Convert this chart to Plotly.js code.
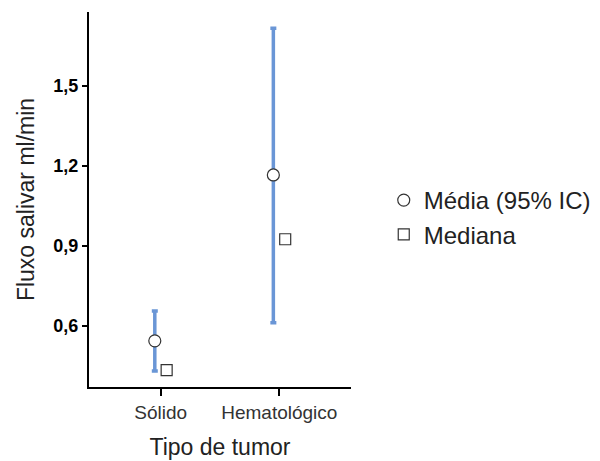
<!DOCTYPE html>
<html>
<head>
<meta charset="utf-8">
<script src="https://cdn.plot.ly/plotly-3.0.1.min.js"></script>
<style>html,body{margin:0;padding:0;background:#fff;}#chart{width:600px;height:461px;}</style>
</head>
<body>
<div id="chart"></div>
<script>
const categories = ["Sólido", "Hematológico"];
const meanValues = [0.544, 1.166];
const ciLower = [0.431, 0.612];
const ciUpper = [0.656, 1.716];
const medianValues = [0.434, 0.925];
const yTickVals = [0.6, 0.9, 1.2, 1.5];
const yTickText = ["0,6", "0,9", "1,2", "1,5"];

const idx = categories.map((c, i) => i);
const dodge = 0.05;

const meanTrace = {
  type: "scatter", mode: "markers", name: "Média (95% IC)",
  x: idx.map(i => i - dodge), y: meanValues,
  text: categories,
  marker: {symbol: "circle", size: 12, color: "#ffffff", line: {color: "#333333", width: 1.2}},
  error_y: {type: "data", symmetric: false,
    array: meanValues.map((m, i) => ciUpper[i] - m),
    arrayminus: meanValues.map((m, i) => m - ciLower[i]),
    color: "#6a96d6", thickness: 3.5, width: 3}
};
const medianTrace = {
  type: "scatter", mode: "markers", name: "Mediana",
  x: idx.map(i => i + dodge), y: medianValues,
  text: categories,
  marker: {symbol: "square", size: 11, color: "#ffffff", line: {color: "#333333", width: 1.2}}
};

const layout = {
  width: 600, height: 461,
  margin: {l: 89, r: 249, t: 12, b: 74, pad: 0, autoexpand: false},
  paper_bgcolor: "#ffffff", plot_bgcolor: "#ffffff",
  font: {family: "Liberation Sans, Arial, sans-serif", color: "#222222"},
  showlegend: true,
  legend: {x: 1.125, y: 0.452, xanchor: "left", yanchor: "middle",
    font: {size: 24, color: "#222222"}, itemwidth: 30, tracegroupgap: 0},
  xaxis: {
    range: [-0.605, 1.605], tickvals: idx, ticktext: categories,
    showgrid: false, zeroline: false, showline: true, linecolor: "#000000", linewidth: 2,
    ticks: "outside", ticklen: 7, tickwidth: 2, tickcolor: "#000000",
    tickfont: {size: 19, color: "#333333"},
    title: {text: "Tipo de tumor", font: {size: 23, color: "#222222"}, standoff: 17}
  },
  yaxis: {
    range: [0.371, 1.777], tickvals: yTickVals, ticktext: yTickText,
    showgrid: false, zeroline: false, showline: true, linecolor: "#000000", linewidth: 2,
    ticks: "outside", ticklen: 5, tickwidth: 2, tickcolor: "#000000",
    tickfont: {size: 18, color: "#000000", weight: "bold"},
    title: {text: "Fluxo salivar ml/min", font: {size: 23, color: "#222222"}, standoff: 12}
  }
};

Plotly.newPlot("chart", [meanTrace, medianTrace], layout, {displayModeBar: false, staticPlot: true});
</script>
</body>
</html>
